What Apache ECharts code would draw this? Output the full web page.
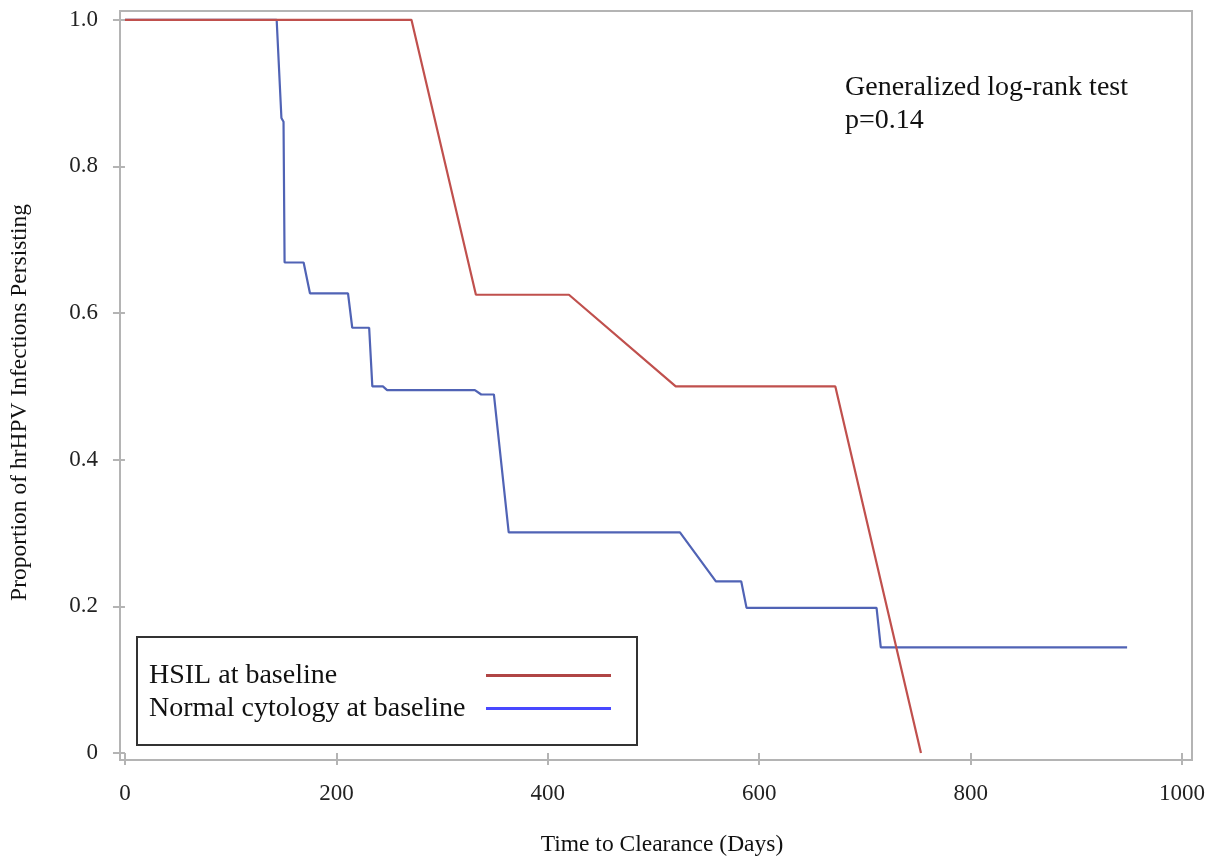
<!DOCTYPE html>
<html>
<head>
<meta charset="utf-8">
<title>hrHPV clearance</title>
<script src="https://cdn.jsdelivr.net/npm/echarts@6/dist/echarts.min.js"></script>
<style>
  html, body { margin: 0; padding: 0; background: #fff; }
  #chart { width: 1227px; height: 865px; }
</style>
</head>
<body>
<div id="chart"></div>
<script>
// 数据：Kaplan-Meier 曲线拐点
const hsilDays = [0, 271, 332, 420, 521, 672, 753]
const hsilProp = [1, 1, 0.625, 0.625, 0.5, 0.5, 0]

const normalDays = [0, 143.5, 148, 150, 151, 169, 175, 211, 215, 231, 234, 244, 248, 331, 337, 349, 363, 525, 559, 583, 588, 711, 715, 948]
const normalProp = [1, 1, 0.866, 0.861, 0.669, 0.669, 0.627, 0.627, 0.58, 0.58, 0.5, 0.5, 0.495, 0.495, 0.489, 0.489, 0.301, 0.301, 0.234, 0.234, 0.198, 0.198, 0.144, 0.144]

const xTicks = [0, 200, 400, 600, 800, 1000]
const yTicks = [0, 0.2, 0.4, 0.6, 0.8, 1.0]

const seriesNames = ['HSIL at baseline', 'Normal cytology at baseline']
const lineColors = ['#c0504d', '#5063b5']
const legendColors = ['#b04545', '#4848ff']

const FONT = '"Liberation Serif", "DejaVu Serif", serif'

const toPairs = (xs, ys) => xs.map((x, i) => [x, ys[i]])

const chart = echarts.init(document.getElementById('chart'))

const option = {
  animation: false,
  backgroundColor: '#fff',
  grid: {
    left: 118,
    right: 35,
    top: 11,
    bottom: 105,
    show: true,
    borderColor: '#b4b4b4',
    borderWidth: 2
  },
  legend: {
    orient: 'vertical',
    left: 137,
    top: 637,
    align: 'right',
    icon: 'rect',
    itemWidth: 125,
    itemHeight: 3,
    itemGap: 0,
    padding: [22, 26, 20, 12],
    borderColor: '#333',
    borderWidth: 2,
    // 文字固定宽度并左对齐，线段排在右侧同一列
    formatter: '{n|{name}}',
    textStyle: {
      fontFamily: FONT,
      fontSize: 28,
      color: '#111',
      lineHeight: 33,
      rich: {
        n: { width: 332, align: 'left', fontFamily: FONT, fontSize: 28, color: '#111', lineHeight: 33 }
      }
    },
    data: seriesNames.map((n, i) => ({ name: n, itemStyle: { color: legendColors[i] } }))
  },
  xAxis: {
    type: 'value',
    min: -4.7,
    max: 1009.4,
    name: 'Time to Clearance (Days)',
    nameLocation: 'middle',
    nameGap: 73,
    nameTextStyle: { fontFamily: FONT, fontSize: 23.5, color: '#111', padding: [0, 0, 0, 12] },
    axisLine: { show: false },
    axisTick: { show: true, length: 12, customValues: xTicks, lineStyle: { color: '#b4b4b4', width: 2 } },
    axisLabel: {
      margin: 22,
      customValues: xTicks,
      fontFamily: FONT,
      fontSize: 23,
      color: '#222',
      formatter: v => String(Math.round(v))
    },
    splitLine: { show: false }
  },
  yAxis: {
    type: 'value',
    min: -0.0095,
    max: 1.012,
    name: 'Proportion of hrHPV Infections Persisting',
    nameLocation: 'middle',
    nameGap: 88,
    nameTextStyle: { fontFamily: FONT, fontSize: 23.5, color: '#111', padding: [0, 34, 0, 0] },
    axisLine: { show: false },
    axisTick: { show: true, length: 12, customValues: yTicks, lineStyle: { color: '#b4b4b4', width: 2 } },
    axisLabel: {
      margin: 22,
      customValues: yTicks,
      fontFamily: FONT,
      fontSize: 23,
      color: '#222',
      formatter: v => (Math.abs(v) < 1e-9 ? '0' : v.toFixed(1))
    },
    splitLine: { show: false }
  },
  graphic: [
    {
      type: 'text',
      left: 845,
      top: 71,
      style: {
        text: 'Generalized log-rank test\np=0.14',
        font: '28px ' + FONT,
        lineHeight: 33,
        fill: '#111'
      }
    }
  ],
  series: [
    {
      name: seriesNames[1],
      type: 'line',
      symbol: 'none',
      z: 2,
      lineStyle: { color: lineColors[1], width: 2.2 },
      itemStyle: { color: lineColors[1] },
      data: toPairs(normalDays, normalProp)
    },
    {
      name: seriesNames[0],
      type: 'line',
      symbol: 'none',
      z: 3,
      lineStyle: { color: lineColors[0], width: 2.2 },
      itemStyle: { color: lineColors[0] },
      data: toPairs(hsilDays, hsilProp)
    }
  ]
}

chart.setOption(option)
window.addEventListener('resize', () => chart.resize())
</script>
</body>
</html>
